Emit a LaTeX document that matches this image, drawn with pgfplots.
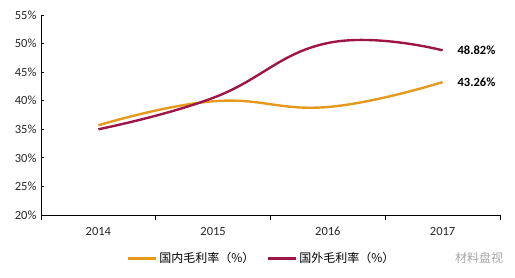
\documentclass[border=0pt]{standalone}
\usepackage{pgfplots}
\pgfplotsset{compat=1.18}
\usepackage{fontspec}
\setmainfont{Carlito}
\newfontfamily\cjk{Noto Sans CJK SC}
\definecolor{dom}{HTML}{E59A1E}
\definecolor{fgn}{HTML}{9E1548}
\begin{document}
\begin{tikzpicture}
\useasboundingbox (-41pt,-62pt) rectangle (474pt,215pt);
\begin{axis}[
  at={(0,0)}, anchor=south west,
  scale only axis, width=459pt, height=200pt,
  xmin=-0.5, xmax=3.5, ymin=20, ymax=55,
  axis lines=left, axis line style={-, black, line width=0.8pt},
  xtick={0,1,2,3}, xticklabels={2014,2015,2016,2017},
  major x tick style={draw=none},
  minor xtick={-0.5,0.5,1.5,2.5,3.5},
  minor x tick style={black, line width=0.8pt},
  xtick align=outside,
  minor tick length=5pt,
  ytick={20,25,...,55},
  yticklabel={\pgfmathprintnumber{\tick}\%},
  ytick align=inside, major tick length=3pt,
  y tick style={black, line width=0.8pt},
  /pgf/number format/assume math mode=true,
  tick label style={font=\fontsize{12.5}{14}\selectfont, text=black!85},
  xticklabel style={yshift=-6pt},
  yticklabel style={xshift=-1pt},
  legend columns=2,
  legend style={at={(0.48,-0.215)}, anchor=center, draw=none,
    font=\cjk\fontsize{12}{14}\selectfont,
    /tikz/every even column/.append style={column sep=10pt}},
  legend image code/.code={\draw[#1, line width=3pt] (0pt,0pt) -- (28pt,0pt);},
  clip=false,
]
\addplot[dom, line width=2.4pt, smooth, tension=0.75] coordinates {(0,35.7) (1,39.9) (2,38.9) (3,43.26)};
\addlegendentry{国内毛利率（\%）}
\addplot[fgn, line width=2.4pt, smooth, tension=0.75] coordinates {(0,35.0) (1,40.5) (2,50.1) (3,48.82)};
\addlegendentry{国外毛利率（\%）}
\node[anchor=west, font=\bfseries\fontsize{12.5}{14}\selectfont] at (axis cs:3.1,48.9) {48.82\%};
\node[anchor=west, font=\bfseries\fontsize{12.5}{14}\selectfont] at (axis cs:3.1,43.3) {43.26\%};
\end{axis}
\node[font=\cjk\fontsize{12}{14}\selectfont, text=black!35, anchor=center] at (438pt,-43pt) {材料盘视};
\end{tikzpicture}
\end{document}
